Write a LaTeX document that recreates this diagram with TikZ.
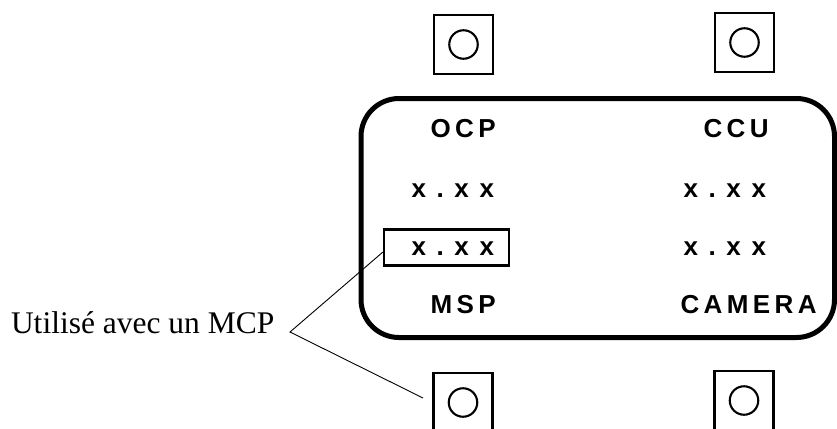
\documentclass[tikz,border=0pt]{standalone}
\usepackage{fontspec}
\setmainfont{Liberation Serif}
\newfontfamily\capsfont{Liberation Sans Bold}[LetterSpace=17]
\newfontfamily\numfont{Liberation Sans Bold}[LetterSpace=41]
\begin{document}
\begin{tikzpicture}[x=1pt,y=-1pt,
  panel/.style={draw=black,line width=5pt,rounded corners=38pt},
  socket/.style={draw=black,line width=2.1pt,minimum width=59pt,minimum height=59pt,inner sep=0pt,outer sep=0pt},
  knob/.style={draw=black,line width=2.1pt,circle,minimum size=28.5pt,inner sep=0pt},
  readout/.style={draw=black,line width=2.1pt,minimum width=125pt,minimum height=36pt,inner sep=0pt},
  caption/.style={anchor=base west,inner sep=0pt,outer sep=0pt,font=\capsfont\fontsize{26}{30}\selectfont},
  value/.style={anchor=base west,inner sep=0pt,outer sep=0pt,font=\numfont\fontsize{26}{30}\selectfont},
  note/.style={anchor=base west,inner sep=0pt,outer sep=0pt,font=\fontsize{31.5}{36}\selectfont},
  leader/.style={draw=black,line width=0.9pt}]
\useasboundingbox (0,0) rectangle (837,428);
\clip (0,0) rectangle (837,428);

% control panel outline
\draw[panel] (361,98.5) rectangle (834.5,337.5);

% connector sockets above and below the panel
\node[socket] (sTL) at (463.5,44.5) {};
\node[knob] (kTL) at (sTL.center) {};
\node[socket] (sTR) at (744.5,42.5) {};
\node[knob] (kTR) at (sTR.center) {};
\node[socket] (sBL) at (463,402.5) {};
\node[knob] (kBL) at (sBL.center) {};
\node[socket] (sBR) at (744,400.5) {};
\node[knob] (kBR) at (sBR.center) {};

% framed readout
\node[readout] (hl) at (446.5,247.5) {};

% panel labels and readouts
\node[caption] (ocp) at (430.5,137) {OCP};
\node[caption] (ccu) at (703.5,137) {CCU};
\node[value] (v1) at (411.5,197) {x.xx};
\node[value] (v2) at (683.5,197) {x.xx};
\node[value] (v3) at (411.5,255) {x.xx};
\node[value] (v4) at (683.5,255) {x.xx};
\node[caption] (msp) at (430.5,313) {MSP};
\node[caption] (cam) at (680.5,313) {CAMERA};

% note with its two leader lines
\node[note] (lbl) at (11,333) {Utilisé avec un MCP};
\coordinate (apex) at (290,332);
\coordinate (leadA) at (hl.west |- 0,252);
\coordinate (leadB) at (423,398);
\draw[leader] (leadA) -- (apex) -- (leadB);
\end{tikzpicture}
\end{document}
